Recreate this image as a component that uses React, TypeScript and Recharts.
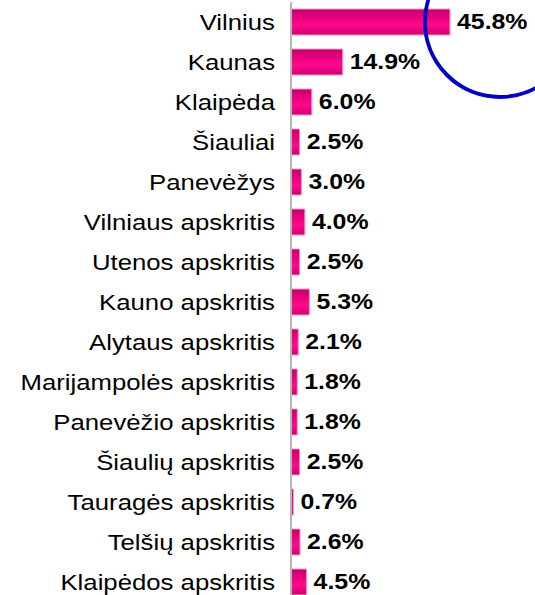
import { BarChart, Bar, XAxis, YAxis, LabelList } from 'recharts';

const regions = [
    'Vilnius',
    'Kaunas',
    'Klaipėda',
    'Šiauliai',
    'Panevėžys',
    'Vilniaus apskritis',
    'Utenos apskritis',
    'Kauno apskritis',
    'Alytaus apskritis',
    'Marijampolės apskritis',
    'Panevėžio apskritis',
    'Šiaulių apskritis',
    'Tauragės apskritis',
    'Telšių apskritis',
    'Klaipėdos apskritis'
];

const shares = [45.8, 14.9, 6.0, 2.5, 3.0, 4.0, 2.5, 5.3, 2.1, 1.8, 1.8, 2.5, 0.7, 2.6, 4.5];

const data = regions.map((name, i) => ({ name, share: shares[i] }));

const font = '"Liberation Sans", Arial, sans-serif';
// the original text looks a bit stretched sideways
const tickStretch = 1.17;
const labelStretch = 1.13;

const RegionTick = ({ x, y, payload }: any) => (
    <text
        transform={`translate(${x},${y}) scale(${tickStretch},1)`}
        textAnchor="end"
        dominantBaseline="central"
        fill="#000"
        fontSize={22}
        fontFamily={font}
    >
        {payload.value}
    </text>
);

const ShareLabel = ({ x, y, width, height, value }: any) => (
    <text
        transform={`translate(${Number(x) + Number(width) + 7},${Number(y) + Number(height) / 2}) scale(${labelStretch},1)`}
        textAnchor="start"
        dominantBaseline="central"
        fill="#000"
        fontSize={22}
        fontWeight="bold"
        fontFamily={font}
    >
        {`${Number(value).toFixed(1)}%`}
    </text>
);

export default function App() {
    return (
        <div style={{ position: 'fixed', top: 0, left: 0, width: 535, height: 595, overflow: 'hidden', background: '#fff' }}>
            <BarChart
                layout="vertical"
                width={535}
                height={602}
                data={data}
                margin={{ top: 2, right: 1, bottom: 0, left: 0 }}
            >
                <defs>
                    <linearGradient id="pinkBar" x1="0" y1="0" x2="0" y2="1">
                        <stop offset="0%" stopColor="#c4006a" />
                        <stop offset="35%" stopColor="#ec007f" />
                        <stop offset="60%" stopColor="#ff0a8c" />
                        <stop offset="100%" stopColor="#d00070" />
                    </linearGradient>
                </defs>
                <XAxis type="number" domain={[0, 70]} hide />
                <YAxis
                    type="category"
                    dataKey="name"
                    width={291}
                    tickLine={false}
                    tickSize={0}
                    tickMargin={16}
                    axisLine={{ stroke: '#b4b4b4', strokeWidth: 2 }}
                    tick={<RegionTick />}
                    interval={0}
                />
                <Bar
                    dataKey="share"
                    barSize={26}
                    fill="url(#pinkBar)"
                    stroke="#f59ac6"
                    strokeWidth={1}
                    isAnimationActive={false}
                >
                    <LabelList dataKey="share" content={<ShareLabel />} />
                </Bar>
            </BarChart>
            <svg width={535} height={595} style={{ position: 'absolute', top: 0, left: 0, pointerEvents: 'none' }}>
                <circle cx={500} cy={22} r={75} fill="none" stroke="#0000c4" strokeWidth={4} />
            </svg>
        </div>
    );
}
